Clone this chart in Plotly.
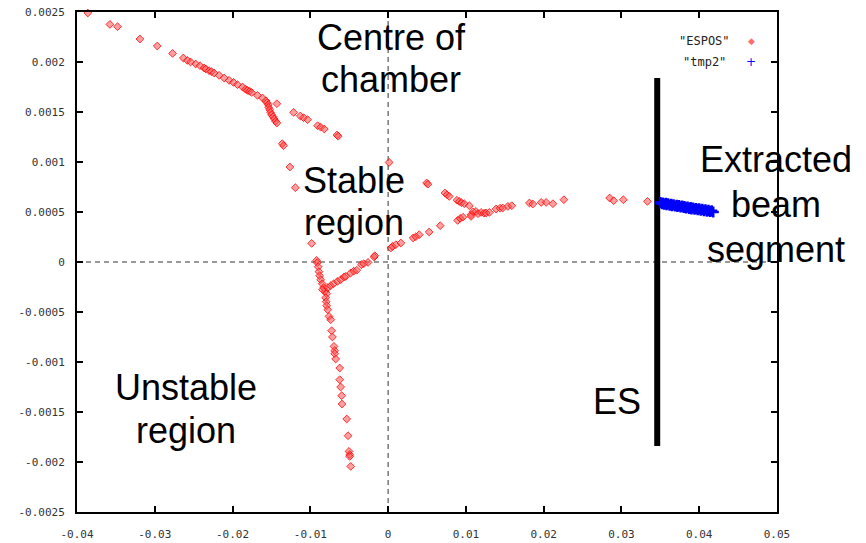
import plotly.graph_objects as go

# ---------------- data ----------------
espos_x = [
    -0.03861, -0.03577, -0.03479, -0.03191, -0.02968, -0.02771, -0.02633, -0.02581,
    -0.02539, -0.02474, -0.02418, -0.02366, -0.02343, -0.02302, -0.02272, -0.02237,
    -0.02173, -0.02108, -0.02044, -0.01988, -0.01937, -0.01872, -0.01834, -0.01808,
    -0.01782, -0.01756, -0.01679, -0.01615, -0.01572, -0.01557, -0.01541, -0.01537,
    -0.01524, -0.01512, -0.01499, -0.01479, -0.01464, -0.01447, -0.01430, -0.01430,
    # second upper arm
    -0.01215, -0.01129, -0.01086, -0.01035, -0.00906, -0.00867, -0.00820, -0.00657, -0.00642,
    # descent toward V
    -0.01361, -0.01344, -0.01263, -0.01193, -0.00983,
    # point on x = 0
    0.00013,
    # V left arm
    -0.00919, -0.00912, -0.00899, -0.00889, -0.00880, -0.00867, -0.00848, -0.00829,
    -0.00809, -0.00790, -0.00842, -0.00777, -0.00738, -0.00700,
    # V right arm
    -0.00652, -0.00610, -0.00567, -0.00544, -0.00481, -0.00442, -0.00403, -0.00343,
    -0.00313, -0.00258, -0.00180, -0.00171,
    # lower leg
    -0.00803, -0.00796, -0.00790, -0.00777, -0.00760, -0.00738, -0.00726, -0.00716,
    -0.00696, -0.00687, -0.00687, -0.00674, -0.00622, -0.00622, -0.00610, -0.00597,
    -0.00593, -0.00532, -0.00515, -0.00503, -0.00494, -0.00494, -0.00481,
    # right arm, upper branch
    0.00495, 0.00512, 0.00731, 0.00757, 0.00786, 0.00885, 0.00915, 0.00943, 0.00979,
    0.01044, 0.01066, 0.01091, 0.01130, 0.01156, 0.01195, 0.01233, 0.01259, 0.01302,
    0.01388, 0.01439, 0.01474, 0.01539, 0.01590, 0.01817, 0.01861, 0.01968, 0.02032,
    0.02119, 0.02260, 0.02848, 0.02900, 0.03024, 0.03334,
    # right arm, lower branch
    0.00035, 0.00057, 0.00099, 0.00164, 0.00322, 0.00357, 0.00400, 0.00528, 0.00670,
    0.00894, 0.00928, 0.00963, 0.01066,
]
espos_y = [
    0.002490, 0.002376, 0.002353, 0.002230, 0.002160, 0.002086, 0.002040, 0.002016,
    0.002000, 0.001980, 0.001963, 0.001940, 0.001930, 0.001913, 0.001903, 0.001890,
    0.001866, 0.001840, 0.001816, 0.001796, 0.001773, 0.001750, 0.001728, 0.001716,
    0.001708, 0.001696, 0.001666, 0.001640, 0.001613, 0.001593, 0.001573, 0.001548,
    0.001523, 0.001498, 0.001473, 0.001453, 0.001430, 0.001408, 0.001390, 0.001583,
    0.001496, 0.001460, 0.001443, 0.001423, 0.001363, 0.001348, 0.001330, 0.001270, 0.001258,
    0.001183, 0.001163, 0.000950, 0.000743, 0.000186,
    0.000996,
    0.000016, -0.000007, -0.000047, -0.000097, -0.000137, -0.000177, -0.000217, -0.000257,
    -0.000292, -0.000317, -0.000277, -0.000257, -0.000237, -0.000217,
    -0.000194, -0.000177, -0.000150, -0.000144, -0.000110, -0.000092, -0.000082, -0.000027,
    -0.000017, -0.000004, 0.000050, 0.000063,
    -0.000357, -0.000397, -0.000437, -0.000477, -0.000544, -0.000577, -0.000687, -0.000750,
    -0.000844, -0.000887, -0.000917, -0.000970, -0.001060, -0.001177, -0.001250, -0.001337,
    -0.001420, -0.001570, -0.001737, -0.001894, -0.001927, -0.001944, -0.002044,
    0.000790, 0.000778, 0.000690, 0.000673, 0.000656, 0.000618, 0.000606, 0.000593, 0.000583,
    0.000563, 0.000473, 0.000503, 0.000506, 0.000483, 0.000496, 0.000488, 0.000490, 0.000496,
    0.000530, 0.000538, 0.000540, 0.000556, 0.000563, 0.000590, 0.000580, 0.000596, 0.000596,
    0.000583, 0.000623, 0.000640, 0.000613, 0.000623, 0.000606,
    0.000140, 0.000156, 0.000173, 0.000190, 0.000240, 0.000253, 0.000273, 0.000300, 0.000363,
    0.000416, 0.000436, 0.000448, 0.000456,
]

tmp2_x = [
    0.0350, 0.0352, 0.0353, 0.0355, 0.0357, 0.0358, 0.0360, 0.0362, 0.0364, 0.0365,
    0.0367, 0.0369, 0.0371, 0.0372, 0.0374, 0.0376, 0.0378, 0.0380, 0.0381, 0.0383,
    0.0385, 0.0387, 0.0389, 0.0390, 0.0392, 0.0394, 0.0396, 0.0398, 0.0400, 0.0402,
    0.0404, 0.0406, 0.0408, 0.0410, 0.0412, 0.0414, 0.0416, 0.0418,
]
tmp2_y = [
    0.000595, 0.000583, 0.000590, 0.000578, 0.000586, 0.000574, 0.000581, 0.000569,
    0.000577, 0.000564, 0.000572, 0.000560, 0.000567, 0.000555, 0.000563, 0.000551,
    0.000558, 0.000546, 0.000554, 0.000541, 0.000549, 0.000537, 0.000544, 0.000532,
    0.000540, 0.000528, 0.000535, 0.000523, 0.000531, 0.000518, 0.000526, 0.000514,
    0.000521, 0.000509, 0.000517, 0.000505, 0.000512, 0.000500,
]

es_x = [0.0346, 0.0346]
es_y = [-0.00184, 0.00184]

x_ticks = [-0.04, -0.03, -0.02, -0.01, 0, 0.01, 0.02, 0.03, 0.04, 0.05]
x_tick_labels = ["-0.04", "-0.03", "-0.02", "-0.01", "0", "0.01", "0.02", "0.03", "0.04", "0.05"]
y_ticks = [0.0025, 0.002, 0.0015, 0.001, 0.0005, 0, -0.0005, -0.001, -0.0015, -0.002, -0.0025]
y_tick_labels = ["0.0025", "0.002", "0.0015", "0.001", "0.0005", "0", "-0.0005",
                 "-0.001", "-0.0015", "-0.002", "-0.0025"]

# overlay text lines: (text, centre x px, baseline y px) in page pixels
overlay_lines = [
    ("Centre of", 391, 50), ("chamber", 391, 92),
    ("Stable", 354, 193), ("region", 354, 235),
    ("Extracted", 776, 172), ("beam", 776, 217), ("segment", 776, 262),
    ("ES", 617, 414),
    ("Unstable", 186, 400), ("region", 186, 443),
]

# ---------------- figure ----------------
W, H = 866, 543
PL, PT, PW, PH = 77, 12, 700, 500   # plot area in page pixels


def px_to_paper(px, py):
    return (px - PL) / PW, (PT + PH - py) / PH


fig = go.Figure()

fig.add_trace(go.Scatter(
    x=es_x, y=es_y, mode="lines",
    line=dict(color="black", width=6), showlegend=False, hoverinfo="skip",
))

fig.add_trace(go.Scatter(
    x=espos_x, y=espos_y, mode="markers", name='"ESPOS"',
    marker=dict(symbol="diamond", size=6, color="rgba(255,80,80,0.55)",
                line=dict(color="rgba(255,0,0,0.75)", width=1)),
    showlegend=False, cliponaxis=False,
))

fig.add_trace(go.Scatter(
    x=tmp2_x, y=tmp2_y, mode="markers", name='"tmp2"',
    marker=dict(symbol="cross-thin", size=8, color="blue",
                line=dict(color="blue", width=2.5)),
    showlegend=False,
))

# dashed zero axes
fig.add_shape(type="line", xref="x", yref="paper", x0=0, x1=0, y0=0, y1=1,
              line=dict(color="#333", width=1, dash="5px,4px"), layer="below")
fig.add_shape(type="line", xref="paper", yref="y", x0=0, x1=1, y0=0, y1=0,
              line=dict(color="#333", width=1, dash="5px,4px"), layer="below")

tick_font = dict(family="DejaVu Sans Mono", size=11, color="#333")
big_size = 36
big = dict(family="Liberation Sans, Arial, sans-serif", size=big_size, color="black")

fig.update_layout(
    width=W, height=H,
    margin=dict(l=PL, r=W - PL - PW, t=PT, b=H - PT - PH, autoexpand=False),
    paper_bgcolor="white", plot_bgcolor="white",
    xaxis=dict(range=[-0.04, 0.05], tickvals=x_ticks, ticktext=x_tick_labels,
               showgrid=False, zeroline=False, showline=True, linecolor="black",
               linewidth=2, mirror="ticks", ticks="inside", ticklen=6, tickwidth=2,
               tickcolor="black", tickfont=tick_font, ticklabelstandoff=11,
               ticklabeloverflow="allow", automargin=False),
    yaxis=dict(range=[-0.0025, 0.0025], tickvals=y_ticks, ticktext=y_tick_labels,
               showgrid=False, zeroline=False, showline=True, linecolor="black",
               linewidth=2, mirror="ticks", ticks="inside", ticklen=6, tickwidth=2,
               tickcolor="black", tickfont=tick_font, ticklabelstandoff=8,
               ticklabeloverflow="allow", automargin=False),
    showlegend=False,
)

for text, cx, base in overlay_lines:
    ax, ay = px_to_paper(cx, base - 0.36 * big_size)
    fig.add_annotation(xref="paper", yref="paper", x=ax, y=ay, text=text,
                       showarrow=False, font=big, xanchor="center", yanchor="middle")

# legend (gnuplot style: label then sample)
legend_font = dict(family="DejaVu Sans Mono", size=12, color="#222")
lx, ly = px_to_paper(732, 40.7)
fig.add_annotation(xref="paper", yref="paper", x=lx, y=ly, text='"ESPOS"',
                   showarrow=False, xanchor="right", yanchor="middle", font=legend_font)
lx, ly = px_to_paper(728, 62)
fig.add_annotation(xref="paper", yref="paper", x=lx, y=ly, text='"tmp2"',
                   showarrow=False, xanchor="right", yanchor="middle", font=legend_font)
lx, ly = px_to_paper(751, 40.7)
fig.add_annotation(xref="paper", yref="paper", x=lx, y=ly, text="◆", showarrow=False,
                   xanchor="center", yanchor="middle",
                   font=dict(family="DejaVu Sans", size=9, color="rgba(255,60,60,0.75)"))
lx, ly = px_to_paper(751, 62)
fig.add_annotation(xref="paper", yref="paper", x=lx, y=ly, text="+", showarrow=False,
                   xanchor="center", yanchor="middle",
                   font=dict(family="DejaVu Sans", size=12, color="blue"))

# remove the browser's default 8px body margin so the figure fills the window exactly
fig.write_html("out.html", config={"displayModeBar": False},
               post_script="document.body.style.margin='0';document.body.style.overflow='hidden';")
